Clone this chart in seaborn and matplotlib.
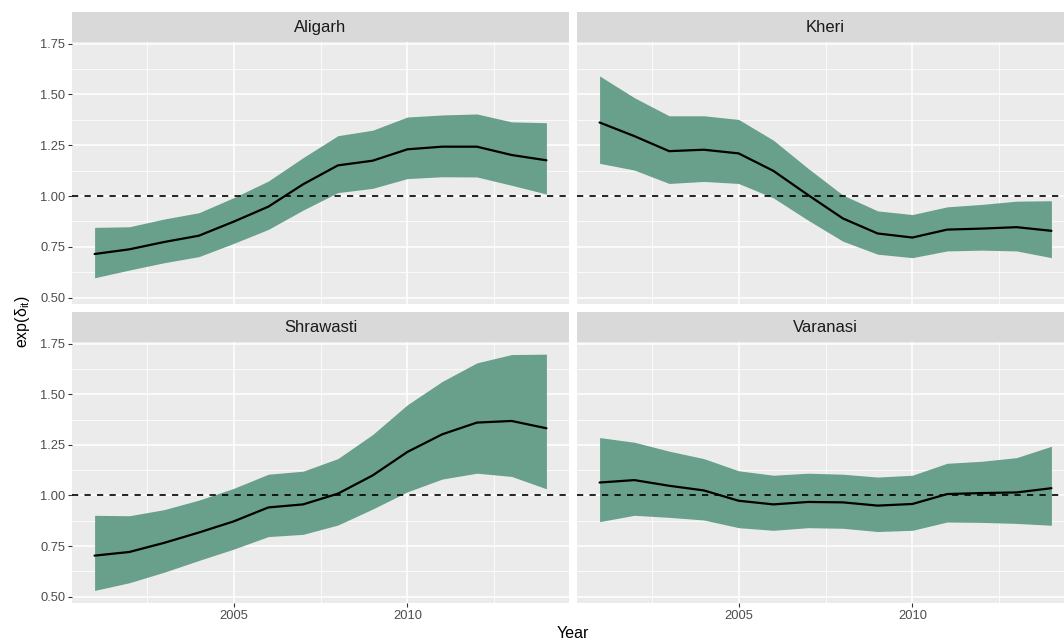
import matplotlib
matplotlib.use("Agg")
import matplotlib.pyplot as plt
import numpy as np
import pandas as pd
import seaborn as sns
from matplotlib.patches import Rectangle
from matplotlib.ticker import FixedLocator

# ---- data -------------------------------------------------------------
years = list(range(2001, 2015))
districts = ["Aligarh", "Kheri", "Shrawasti", "Varanasi"]

aligarh_mean = [0.715, 0.738, 0.774, 0.805, 0.874, 0.948, 1.058, 1.151, 1.174, 1.230, 1.243, 1.243, 1.202, 1.176]
aligarh_low = [0.598, 0.636, 0.672, 0.702, 0.767, 0.836, 0.931, 1.017, 1.038, 1.086, 1.095, 1.094, 1.053, 1.010]
aligarh_high = [0.846, 0.849, 0.887, 0.918, 0.992, 1.074, 1.189, 1.297, 1.324, 1.389, 1.399, 1.404, 1.365, 1.361]

kheri_mean = [1.362, 1.295, 1.221, 1.228, 1.210, 1.124, 1.005, 0.890, 0.816, 0.796, 0.835, 0.840, 0.847, 0.829]
kheri_low = [1.161, 1.128, 1.062, 1.072, 1.062, 0.991, 0.881, 0.778, 0.714, 0.697, 0.730, 0.734, 0.730, 0.697]
kheri_high = [1.591, 1.484, 1.395, 1.395, 1.377, 1.275, 1.136, 1.005, 0.927, 0.909, 0.947, 0.959, 0.975, 0.977]

shrawasti_mean = [0.703, 0.721, 0.766, 0.817, 0.872, 0.941, 0.956, 1.009, 1.099, 1.215, 1.302, 1.360, 1.368, 1.332]
shrawasti_low = [0.531, 0.569, 0.621, 0.679, 0.735, 0.797, 0.808, 0.854, 0.933, 1.018, 1.081, 1.110, 1.094, 1.033]
shrawasti_high = [0.902, 0.900, 0.930, 0.977, 1.035, 1.105, 1.120, 1.182, 1.301, 1.448, 1.563, 1.655, 1.696, 1.698]

varanasi_mean = [1.064, 1.076, 1.048, 1.025, 0.974, 0.956, 0.968, 0.966, 0.950, 0.958, 1.007, 1.012, 1.015, 1.036]
varanasi_low = [0.871, 0.902, 0.892, 0.879, 0.841, 0.828, 0.841, 0.838, 0.822, 0.828, 0.869, 0.867, 0.862, 0.853]
varanasi_high = [1.286, 1.263, 1.219, 1.182, 1.122, 1.100, 1.110, 1.105, 1.091, 1.100, 1.159, 1.169, 1.187, 1.243]

series = {
    "Aligarh": (aligarh_mean, aligarh_low, aligarh_high),
    "Kheri": (kheri_mean, kheri_low, kheri_high),
    "Shrawasti": (shrawasti_mean, shrawasti_low, shrawasti_high),
    "Varanasi": (varanasi_mean, varanasi_low, varanasi_high),
}

rows = []
for d in districts:
    m, lo, hi = series[d]
    for y, a, b, c in zip(years, m, lo, hi):
        rows.append({"District": d, "Year": y, "mean": a, "lower": b, "upper": c})
df = pd.DataFrame(rows)

# ---- style ------------------------------------------------------------
sns.set_theme(style="darkgrid")
plt.rcParams["font.family"] = ["Liberation Sans", "DejaVu Sans"]
plt.rcParams["mathtext.fontset"] = "custom"
plt.rcParams["mathtext.rm"] = "Liberation Sans"
plt.rcParams["mathtext.it"] = "Liberation Sans:italic"

W, H = 1064, 641
fig = plt.figure(figsize=(W / 100, H / 100), dpi=100)
fig.patch.set_facecolor("white")

panel_w = 497
lefts = [72, 577]
tops = [42, 342]
panel_h = [262, 261]
strip_h = 30

ribbon_col = "#68A08B"
panel_bg = "#EBEBEB"

for i, d in enumerate(districts):
    r, c = divmod(i, 2)
    x0 = lefts[c]
    y0 = tops[r]
    ph = panel_h[r]
    ax = fig.add_axes([x0 / W, 1 - (y0 + ph) / H, panel_w / W, ph / H])
    ax.set_facecolor(panel_bg)
    for s in ax.spines.values():
        s.set_visible(False)

    sub = df[df["District"] == d]
    ax.fill_between(sub["Year"], sub["lower"], sub["upper"],
                    color=ribbon_col, linewidth=0, zorder=2)
    sns.lineplot(data=sub, x="Year", y="mean", color="black",
                 linewidth=1.6, ax=ax, zorder=3)
    ax.axhline(1.0, color="black", linewidth=1.2,
               linestyle=(0, (3.75, 3.75)), zorder=4)

    ax.set_xlim(2000.35, 2014.65)
    ax.set_ylim(0.469, 1.758)
    ax.xaxis.set_major_locator(FixedLocator([2005, 2010]))
    ax.xaxis.set_minor_locator(FixedLocator([2002.5, 2007.5, 2012.5]))
    ax.yaxis.set_major_locator(FixedLocator([0.5, 0.75, 1.0, 1.25, 1.5, 1.75]))
    ax.yaxis.set_minor_locator(FixedLocator([0.625, 0.875, 1.125, 1.375, 1.625]))
    ax.set_yticklabels(["0.50", "0.75", "1.00", "1.25", "1.50", "1.75"])
    ax.grid(which="major", color="white", linewidth=1.1, zorder=1)
    ax.grid(which="minor", color="white", linewidth=0.55, zorder=1)
    ax.set_axisbelow(True)

    ax.tick_params(which="major", direction="out", length=2.9, width=0.8,
                   color="#333333", labelcolor="#4D4D4D", labelsize=9.3, pad=2)
    ax.tick_params(which="minor", length=0)
    ax.tick_params(axis="x", bottom=(r == 1), labelbottom=(r == 1))
    ax.tick_params(axis="y", left=(c == 0), labelleft=(c == 0))
    ax.set_xlabel("")
    ax.set_ylabel("")

    # facet strip
    sh = strip_h / ph
    ax.add_patch(Rectangle((0, 1), 1, sh, transform=ax.transAxes,
                           facecolor="#D9D9D9", edgecolor="none", clip_on=False))
    ax.text(0.5, 1 + sh / 2, d, transform=ax.transAxes, ha="center",
            va="center", fontsize=12, color="#1A1A1A")

fig.text(23 / W, 1 - 322 / H, r"exp($\mathregular{\delta_{it}}$)", rotation=90,
         ha="center", va="center", fontsize=11.5, color="black")
fig.text(572.5 / W, 1 - 634 / H, "Year", ha="center", va="center",
         fontsize=11.5, color="black")

fig.savefig("out.png", dpi=100)
